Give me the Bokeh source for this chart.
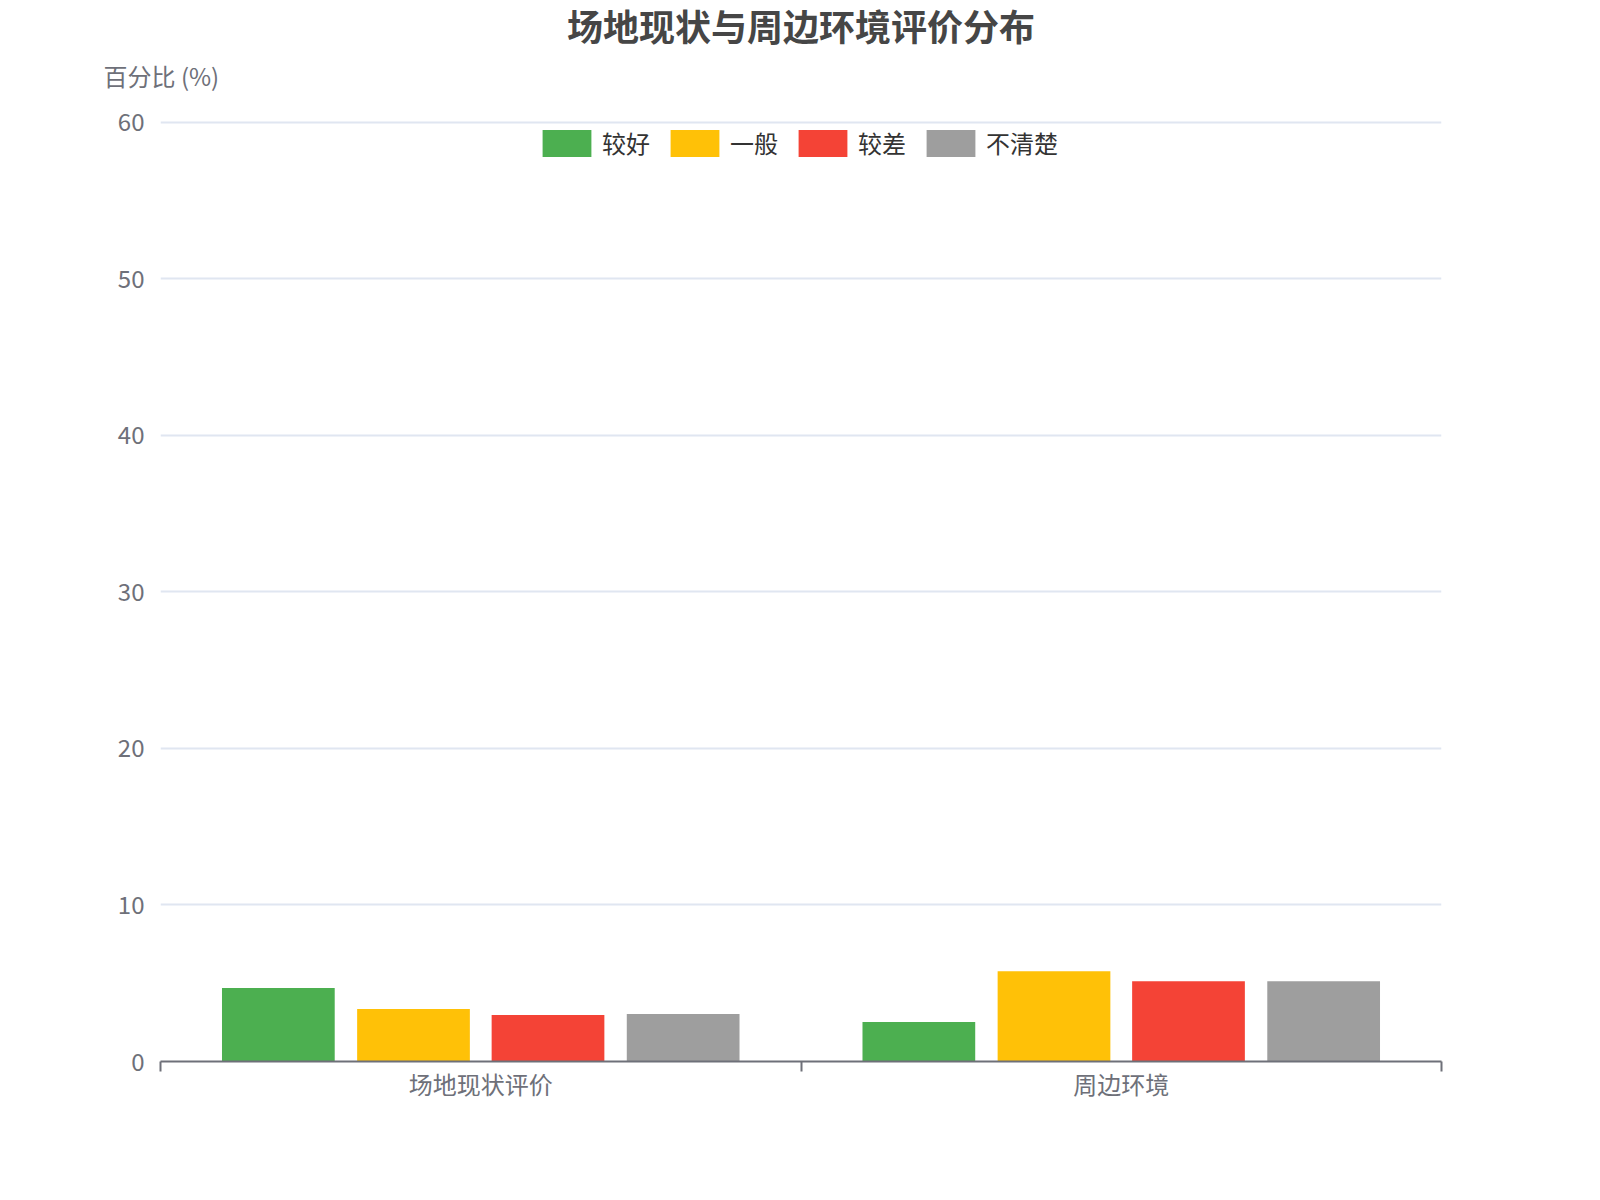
from bokeh.plotting import figure
from bokeh.models import (Range1d, FixedTicker, Legend, LegendItem,
                          ColumnDataSource, Title)
from bokeh.transform import dodge
from bokeh.embed import file_html
from bokeh.resources import INLINE

# ---- data ----
title_text = "场地现状与周边环境评价分布"
y_name = "百分比 (%)"
categories = ["场地现状评价", "周边环境"]
series_names = ["较好", "一般", "较差", "不清楚"]
good = [4.7, 2.53]
fair = [3.35, 5.76]
poor = [2.97, 5.13]
unclear = [3.04, 5.13]
colors = ["#4CAF50", "#FFC107", "#F44336", "#9E9E9E"]
y_ticks = [0, 10, 20, 30, 40, 50, 60]

FONT = "Noto Sans CJK SC"
AXIS_COLOR = "#6E7079"
W, H = 1584, 1184
ML, MR, MT, MB = 160, 143, 120, 123
FH = H - MT - MB

p = figure(width=W, height=H, output_backend="svg", toolbar_location=None,
           x_range=Range1d(-0.5, len(categories) - 0.5),
           y_range=Range1d(y_ticks[0], y_ticks[-1] + 0.1),
           min_border_left=ML, min_border_right=MR,
           min_border_top=MT, min_border_bottom=MB)
p.outline_line_color = None
p.background_fill_color = "white"
p.border_fill_color = "white"

source = ColumnDataSource(dict(idx=list(range(len(categories))),
                               good=good, fair=fair, poor=poor, unclear=unclear))
keys = ["good", "fair", "poor", "unclear"]
offsets = [-0.316, -0.105, 0.105, 0.316]
renderers = []
for key, off, col in zip(keys, offsets, colors):
    r = p.vbar(x=dodge("idx", off), top=key, width=0.176, source=source,
               fill_color=col, line_color=None)
    renderers.append(r)

# x axis
xa = p.xaxis[0]
xa.ticker = FixedTicker(ticks=list(range(len(categories))),
                        minor_ticks=[i - 0.5 for i in range(len(categories) + 1)])
xa.major_label_overrides = {i: c for i, c in enumerate(categories)}
xa.major_tick_line_color = None
xa.major_tick_out = 0
xa.major_tick_in = 0
xa.minor_tick_line_color = AXIS_COLOR
xa.minor_tick_line_width = 2
xa.minor_tick_out = 10
xa.minor_tick_in = 0
xa.axis_line_color = AXIS_COLOR
xa.axis_line_width = 2
xa.major_label_text_font = FONT
xa.major_label_text_font_size = "24px"
xa.major_label_text_color = AXIS_COLOR
xa.major_label_standoff = -6

# y axis
ya = p.yaxis[0]
ya.ticker = FixedTicker(ticks=y_ticks)
ya.axis_line_color = None
ya.major_tick_line_color = None
ya.major_tick_out = 0
ya.major_tick_in = 0
ya.minor_tick_line_color = None
ya.major_label_text_font = FONT
ya.major_label_text_font_size = "24px"
ya.major_label_text_color = AXIS_COLOR
ya.major_label_standoff = 16

p.xgrid.visible = False
p.ygrid.ticker = FixedTicker(ticks=y_ticks)
p.ygrid.grid_line_color = "#E0E6F1"
p.ygrid.grid_line_width = 2

# axis name (nearest to the frame) then the main title
p.add_layout(Title(text=y_name, align="left", offset=-57, standoff=56,
                   text_font=FONT, text_font_size="24px",
                   text_font_style="normal", text_color=AXIS_COLOR), "above")
p.add_layout(Title(text=title_text, align="center", standoff=-46,
                   text_font=FONT, text_font_size="36px",
                   text_font_style="bold", text_color="#464646"), "above")

legend = Legend(items=[LegendItem(label=n, renderers=[r])
                       for n, r in zip(series_names, renderers)],
                orientation="horizontal", location=(376, FH - 6 - 34),
                margin=0, padding=0, spacing=14, label_standoff=5,
                glyph_width=61, glyph_height=34,
                label_text_font=FONT, label_text_font_size="24px",
                label_text_color="#333333",
                background_fill_alpha=0, border_line_alpha=0)
p.add_layout(legend)

open("out.html", "w").write(file_html(p, INLINE))
